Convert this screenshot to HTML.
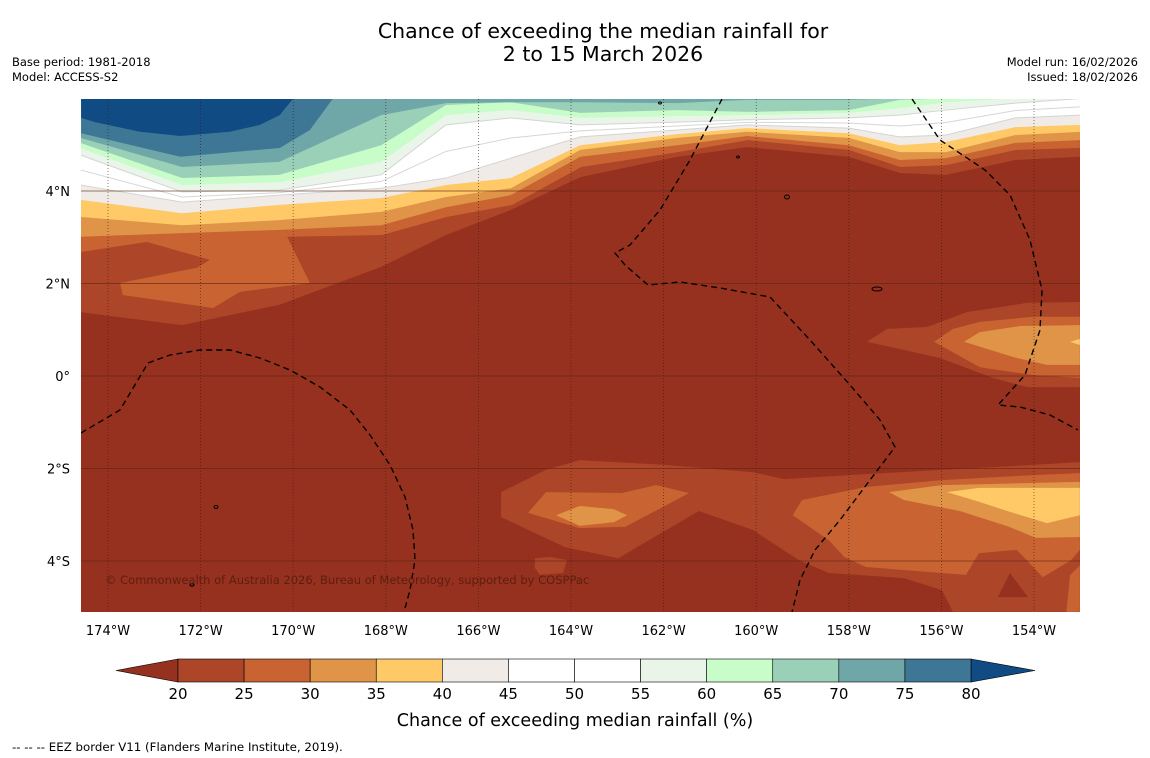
<!DOCTYPE html>
<html><head><meta charset="utf-8"><style>
body{margin:0;background:#fff;width:1150px;height:758px;overflow:hidden;font-family:"DejaVu Sans","Liberation Sans",sans-serif;}
svg{position:absolute;left:0;top:0}
</style></head><body>
<svg id="s" width="1150" height="758" viewBox="0 0 1150 758">
<defs><clipPath id="mc"><rect x="81" y="99" width="999" height="513"/></clipPath></defs>
<text x="603" y="38" text-anchor="middle" font-size="20.5">Chance of exceeding the median rainfall for</text>
<text x="603" y="61" text-anchor="middle" font-size="20.5">2 to 15 March 2026</text>
<text x="12" y="66" font-size="11.5">Base period: 1981-2018</text>
<text x="12" y="81" font-size="11.5">Model: ACCESS-S2</text>
<text x="1138" y="66" font-size="11.5" text-anchor="end">Model run: 16/02/2026</text>
<text x="1138" y="81" font-size="11.5" text-anchor="end">Issued: 18/02/2026</text>
<g id="map" clip-path="url(#mc)">
<rect x="81" y="99" width="999" height="513" fill="#97311f"/>
</g>
<g id="axes"></g>
<g id="cbar"></g>
<text x="575" y="726" text-anchor="middle" font-size="17.5">Chance of exceeding median rainfall (%)</text>
<text x="12" y="751" font-size="11.8">--  --  -- EEZ border V11 (Flanders Marine Institute, 2019).</text>
</svg>
<script>
const lons=[-174.6,-172.4,-170.3,-168.1,-166.7,-165.3,-163.8,-161.7,-160.2,-158.0,-156.9,-155.9,-154.4,-153.0];
const L20=[1.38,1.10,1.54,2.36,3.05,3.59,4.30,4.74,4.95,4.74,4.39,4.35,4.67,4.74];
const L30=[3.01,3.09,3.16,3.26,3.65,3.91,4.74,4.99,5.19,4.99,4.67,4.71,5.04,5.10];
const L35=[3.44,3.26,3.37,3.55,3.87,4.06,4.89,5.15,5.28,5.15,4.84,4.84,5.21,5.28];
const L40=[3.81,3.52,3.70,3.85,4.13,4.28,4.99,5.23,5.36,5.25,4.99,5.06,5.38,5.43];
const L45=[4.13,3.76,3.91,4.06,4.28,4.71,5.17,5.32,5.43,5.36,5.17,5.21,5.58,5.64];
const L55=[4.78,3.98,4.02,4.35,5.43,5.58,5.43,5.49,5.54,5.58,5.64,5.75,5.90,6.0];
const L60=[4.93,4.13,4.19,4.63,5.64,5.75,5.58,5.62,5.64,5.69,5.79,5.92,6.0,6.0];
const L65=[5.04,4.28,4.35,4.99,5.86,5.92,5.69,5.75,5.71,5.75,5.97,6.0,6.0,6.0];
const L70=[5.15,4.52,4.63,5.64,5.90,5.92,5.92,5.90,5.97,5.97,6.0,6.0,6.0,6.0];
const L75path=[[-174.58,5.25],[-172.44,4.74],[-170.29,4.93],[-169.64,5.32],[-169.14,6.0]];
const L80path=[[-174.58,5.58],[-174.28,5.49],[-173.31,5.28],[-172.44,5.19],[-171.37,5.28],[-170.72,5.43],[-170.29,5.64],[-170.00,6.0]];
const L25path=[[-174.58,2.68],[-173.16,2.90],[-171.80,2.51],[-172.08,2.34],[-173.74,2.01],[-173.68,1.75],[-171.73,1.47],[-171.15,1.82],[-169.64,2.01],[-170.13,3.01],[-168.08,3.05],[-166.68,3.44],[-165.27,3.70],[-163.78,4.52],[-161.69,4.84],[-160.18,5.10],[-158.00,4.89],[-156.89,4.52],[-155.90,4.56],[-154.39,4.89],[-153.01,4.93]];
const patchA20=[[-157.61,0.74],[-157.17,1.02],[-156.31,1.06],[-155.45,1.38],[-154.15,1.58],[-153.01,1.60],[-153.01,-0.24],[-154.15,-0.24],[-154.89,-0.04],[-156.03,0.39]];
const patchA25=[[-156.16,0.74],[-155.75,1.02],[-155.17,1.17],[-154.02,1.28],[-153.01,1.28],[-153.01,-0.04],[-154.02,0.02],[-155.17,0.19]];
const patchA30=[[-155.51,0.74],[-155.17,0.95],[-154.30,1.08],[-153.01,1.10],[-153.01,0.24],[-153.72,0.24],[-154.45,0.41]];
const patchA35=[[-153.22,0.74],[-153.01,0.80],[-153.01,0.67]];
const patchB20=[[-165.51,-2.51],[-164.54,-2.03],[-163.81,-1.82],[-162.01,-1.92],[-160.07,-2.08],[-159.40,-2.23],[-157.95,-2.14],[-155.99,-2.03],[-153.96,-1.92],[-153.01,-1.86],[-153.01,-5.10],[-155.75,-5.10],[-155.99,-4.63],[-156.81,-4.37],[-158.43,-4.26],[-159.08,-3.98],[-160.07,-3.33],[-161.24,-2.92],[-162.98,-3.94],[-164.13,-3.70],[-165.51,-3.05]];
const patchB20b=[[-164.78,-3.94],[-164.45,-3.91],[-164.09,-3.98],[-164.17,-4.26],[-164.67,-4.30],[-164.78,-4.15]];
const patchBdark=[[-154.52,-4.26],[-154.13,-4.78],[-154.78,-4.78]];
const patchB25a=[[-164.93,-2.96],[-164.54,-2.51],[-162.90,-2.53],[-162.16,-2.36],[-161.45,-2.53],[-162.01,-2.83],[-162.83,-3.26],[-163.81,-3.29]];
const patchB25b=[[-159.21,-3.01],[-159.01,-2.68],[-157.63,-2.40],[-155.99,-2.25],[-153.96,-2.14],[-153.01,-2.10],[-153.01,-3.76],[-153.20,-3.98],[-153.81,-4.35],[-154.37,-3.76],[-155.19,-3.83],[-155.47,-4.30],[-157.63,-4.13],[-158.10,-3.91],[-158.43,-3.55]];
const patchB25c=[[-153.22,-4.30],[-153.01,-4.10],[-153.01,-5.10],[-153.30,-5.10]];
const patchB30a=[[-164.32,-3.01],[-163.81,-2.81],[-163.07,-2.88],[-162.79,-3.01],[-163.07,-3.16],[-163.81,-3.24]];
const patchB30b=[[-157.13,-2.51],[-155.99,-2.36],[-153.01,-2.29],[-153.01,-3.48],[-153.96,-3.50],[-154.54,-3.26],[-155.60,-2.92],[-156.81,-2.68]];
const patchB35=[[-155.88,-2.51],[-155.19,-2.42],[-153.01,-2.42],[-153.01,-3.01],[-153.72,-3.18],[-154.45,-2.96],[-155.19,-2.72]];
const lonTicks=[-174,-172,-170,-168,-166,-164,-162,-160,-158,-156,-154];
const latTicks=[4,2,0,-2,-4];
const cbLevels=[20,25,30,35,40,45,50,55,60,65,70,75,80];
const cbColors=['#ad4528','#c96432','#e09447','#fec966','#f0ebe6','#ffffff','#ffffff','#eaf5e9','#c8fcc8','#9bd0b8','#6fa6a8','#3e7696'];

const NS='http://www.w3.org/2000/svg';
function X(lon){return 108+(lon+174)*46.3;}
function Y(lat){return 376-lat*46.25;}
function mk(tag,attrs,parent){const e=document.createElementNS(NS,tag);for(const k in attrs)e.setAttribute(k,attrs[k]);parent.appendChild(e);return e;}
const map=document.getElementById('map');
function topBand(row,color,name){
  let pts=[[X(lons[0]),99]];
  row.forEach((v,i)=>pts.push([X(lons[i]),Y(v)]));
  pts.push([X(lons[lons.length-1]),99]);
  const p=mk('polygon',{points:pts.map(q=>q.join(',')).join(' '),fill:color},map);
  
  
}
function poly(arr,color,name,closeTop){
  let pts=arr.map(q=>[X(q[0]),Y(q[1])]);
  if(closeTop){pts.unshift([X(arr[0][0]),99]);pts.push([X(arr[arr.length-1][0]),99]);}
  const p=mk('polygon',{points:pts.map(q=>q.join(',')).join(' '),fill:color},map);
  
  
}
topBand(L20,'#ad4528','band-20-25');
poly(L25path,'#c96432','band-25-30',true);
topBand(L30,'#e09447','band-30-35');
topBand(L35,'#fec966','band-35-40');
topBand(L40,'#f0ebe6','band-40-45');
topBand(L45,'#ffffff','band-45-55');
topBand(L55,'#eaf5e9','band-55-60');
topBand(L60,'#c8fcc8','band-60-65');
topBand(L65,'#9bd0b8','band-65-70');
topBand(L70,'#6fa6a8','band-70-75');
poly(L75path,'#3e7696','band-75-80',true);
poly(L80path,'#114b84','band-above-80',true);
[L45,L55].forEach((row,j)=>{
  const l=mk('polyline',{points:row.map((v,i)=>X(lons[i])+','+Y(v)).join(' '),fill:'none',stroke:'#d4d4d4','stroke-width':1},map);
  
  
});
const mid=mk('polyline',{points:L45.map((v,i)=>X(lons[i])+','+Y((v+L55[i])/2)).join(' '),fill:'none',stroke:'#d6d6d6','stroke-width':1},map);


poly(patchA20,'#ad4528','east-equator-20-25');
poly(patchA25,'#c96432','east-equator-25-30');
poly(patchA30,'#e09447','east-equator-30-35');
poly(patchA35,'#fec966','east-equator-35-40');
poly(patchB20,'#ad4528','south-20-25');
poly(patchB20b,'#ad4528','south-small-20-25');
poly(patchBdark,'#97311f','south-dark-island');
poly(patchB25a,'#c96432','south-west-25-30');
poly(patchB25b,'#c96432','south-east-25-30');
poly(patchB25c,'#c96432','south-corner-25-30');
poly(patchB30a,'#e09447','south-west-30-35');
poly(patchB30b,'#e09447','south-east-30-35');
poly(patchB35,'#fec966','south-east-35-40');
lonTicks.forEach(l=>{const g=mk('line',{x1:X(l),x2:X(l),y1:99,y2:612,stroke:'#3a1a10','stroke-width':0.8,'stroke-dasharray':'1,2',opacity:0.7},map);
 });
latTicks.forEach(l=>{const g=mk('line',{x1:81,x2:1080,y1:Y(l),y2:Y(l),stroke:'#5a2414','stroke-width':1,opacity:0.6},map);
 });
['M81,433 L120,410 L148,363 L170,355 L200,350 L230,350 L260,358 L290,370 L320,387 L350,410 L370,435 L390,465 L405,497 L413,530 L415,560 L410,590 L404,612',
 'M722,99 L690,160 L660,210 L630,245 L615,253 L625,265 L648,285 L680,282 L720,288 L770,297 L810,340 L850,385 L880,420 L895,447 L870,480 L840,520 L815,550 L800,580 L792,612',
 'M912,99 L940,140 L985,170 L1010,195 L1030,240 L1042,290 L1040,330 L1025,375 L998,405 L1020,407 L1050,415 L1078,430'].forEach(d=>{
 const e=mk('path',{d:d,fill:'none',stroke:'#000','stroke-width':1.4,'stroke-dasharray':'6,4'},map);
 });
[[787,197,2.5,2],[877,289,5,2],[216,507,2,1.5],[192,585,2,1.2],[660,103,1.5,1],[738,157,1.5,1]].forEach(a=>{const e=mk('ellipse',{cx:a[0],cy:a[1],rx:a[2],ry:a[3],fill:'none',stroke:'#000','stroke-width':1},map);
 });
const cp=mk('text',{x:105,y:584,'font-size':11.5,fill:'#5c1e10'},map);cp.textContent='© Commonwealth of Australia 2026, Bureau of Meteorology, supported by COSPPac';

const ax=document.getElementById('axes');
lonTicks.forEach(l=>{const t=mk('text',{x:X(l),y:635,'font-size':13,'text-anchor':'middle'},ax);t.textContent=Math.abs(l)+'°W';
 });
latTicks.forEach(l=>{const t=mk('text',{x:70,y:Y(l)+5,'font-size':13,'text-anchor':'end'},ax);t.textContent=l===0?'0°':Math.abs(l)+'°'+(l>0?'N':'S');
 });
const cb=document.getElementById('cbar');
const cx0=178,cx1=971,cy=659,ch=23,bw=(cx1-cx0)/cbColors.length;
const lt=mk('polygon',{points:`${cx0},${cy} 116,${cy+ch/2} ${cx0},${cy+ch}`,fill:'#97311f',stroke:'#000','stroke-width':0.6},cb);

const rt=mk('polygon',{points:`${cx1},${cy} 1035,${cy+ch/2} ${cx1},${cy+ch}`,fill:'#114b84',stroke:'#000','stroke-width':0.6},cb);

cbColors.forEach((c,i)=>{const r=mk('rect',{x:cx0+i*bw,y:cy,width:bw,height:ch,fill:c,stroke:'#000','stroke-width':0.6},cb);
 });
cbLevels.forEach((v,i)=>{const t=mk('text',{x:cx0+i*bw,y:699,'font-size':15,'text-anchor':'middle'},cb);t.textContent=v;
 });
</script>
</body></html>
